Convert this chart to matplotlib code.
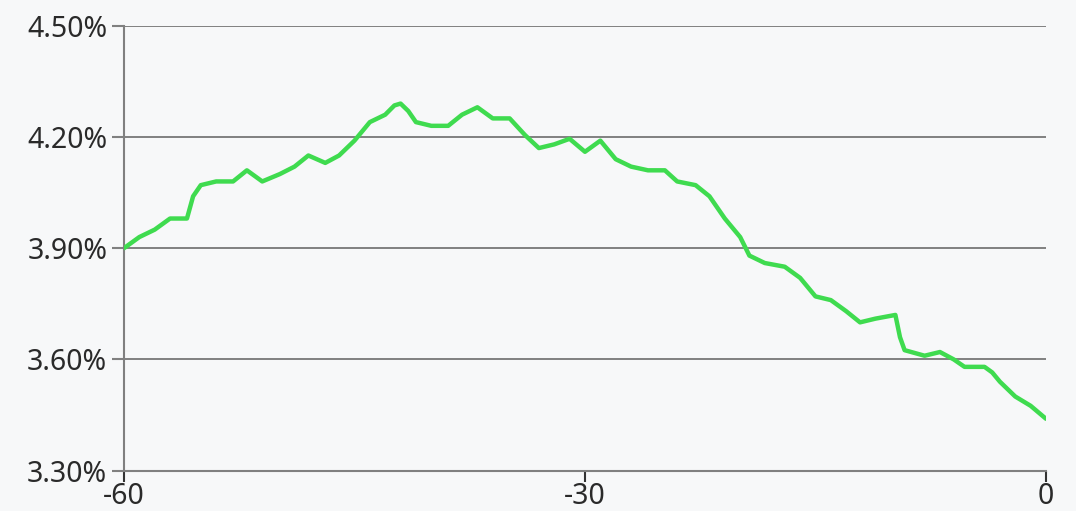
import matplotlib
matplotlib.use("Agg")
import matplotlib.pyplot as plt
from matplotlib.ticker import FuncFormatter

# values (x = days, y = rate in %)
days = [-60, -59, -58, -57, -55.9, -55.5, -55, -54, -52.9, -52, -51, -49.85,
        -48.9, -48, -46.9, -46, -45, -44, -43, -42.4, -42, -41.5, -41, -40,
        -38.9, -38, -37, -36, -34.9, -33.9, -33, -32, -31, -30, -29, -28, -27,
        -25.9, -24.8, -24, -22.8, -21.9, -20.9, -19.9, -19.3, -18.3, -17, -16,
        -15, -14, -13, -12.1, -11.1, -9.8, -9.5, -9.2, -7.9, -6.9, -6, -5.3,
        -4, -3.5, -3, -2, -1, 0]
rate = [3.90, 3.93, 3.95, 3.98, 3.98, 4.04, 4.07, 4.08, 4.08, 4.11, 4.08, 4.10,
        4.12, 4.15, 4.13, 4.15, 4.19, 4.24, 4.26, 4.285, 4.29, 4.27, 4.24, 4.23,
        4.23, 4.26, 4.28, 4.25, 4.25, 4.205, 4.17, 4.18, 4.195, 4.16, 4.19,
        4.14, 4.12, 4.11, 4.11, 4.08, 4.07, 4.04, 3.98, 3.93, 3.88, 3.86, 3.85,
        3.82, 3.77, 3.76, 3.73, 3.70, 3.71, 3.72, 3.66, 3.625, 3.61, 3.62, 3.60,
        3.58, 3.58, 3.565, 3.54, 3.50, 3.475, 3.44]

x_ticks = [-60, -30, 0]
y_ticks = [3.30, 3.60, 3.90, 4.20, 4.50]

bg = "#f7f8f9"
axis_col = "#808080"

fig = plt.figure(figsize=(10.76, 5.11), dpi=100, facecolor=bg)
ax = fig.add_axes([0.1152, 0.0789, 0.8569, 0.8708], facecolor=bg)

ax.plot(days, rate, color="#3fdb4f", linewidth=3.2, solid_joinstyle="round",
        solid_capstyle="round", zorder=3)

ax.set_xlim(-60, 0)
ax.set_ylim(3.30, 4.50)
ax.set_xticks(x_ticks)
ax.set_yticks(y_ticks)
ax.yaxis.set_major_formatter(FuncFormatter(lambda v, p: f"{v:.2f}%"))
ax.xaxis.set_major_formatter(FuncFormatter(lambda v, p: f"{v:.0f}"))

# horizontal grid only
ax.grid(axis="y", color=axis_col, linewidth=1.4)
ax.set_axisbelow(True)

for s in ["top", "right"]:
    ax.spines[s].set_visible(False)
for s in ["left", "bottom"]:
    ax.spines[s].set_color(axis_col)
    ax.spines[s].set_linewidth(1.5)

ax.tick_params(axis="y", length=9, width=1.5, color=axis_col, pad=3,
               labelsize=20.5, labelcolor="#2a2a2a")
ax.tick_params(axis="x", length=8, width=1.5, color="#333333", pad=0,
               labelsize=20.5, labelcolor="#2a2a2a")
for lbl in ax.get_xticklabels() + ax.get_yticklabels():
    lbl.set_family("Noto Sans")

fig.savefig("out.png", dpi=100, facecolor=bg)
